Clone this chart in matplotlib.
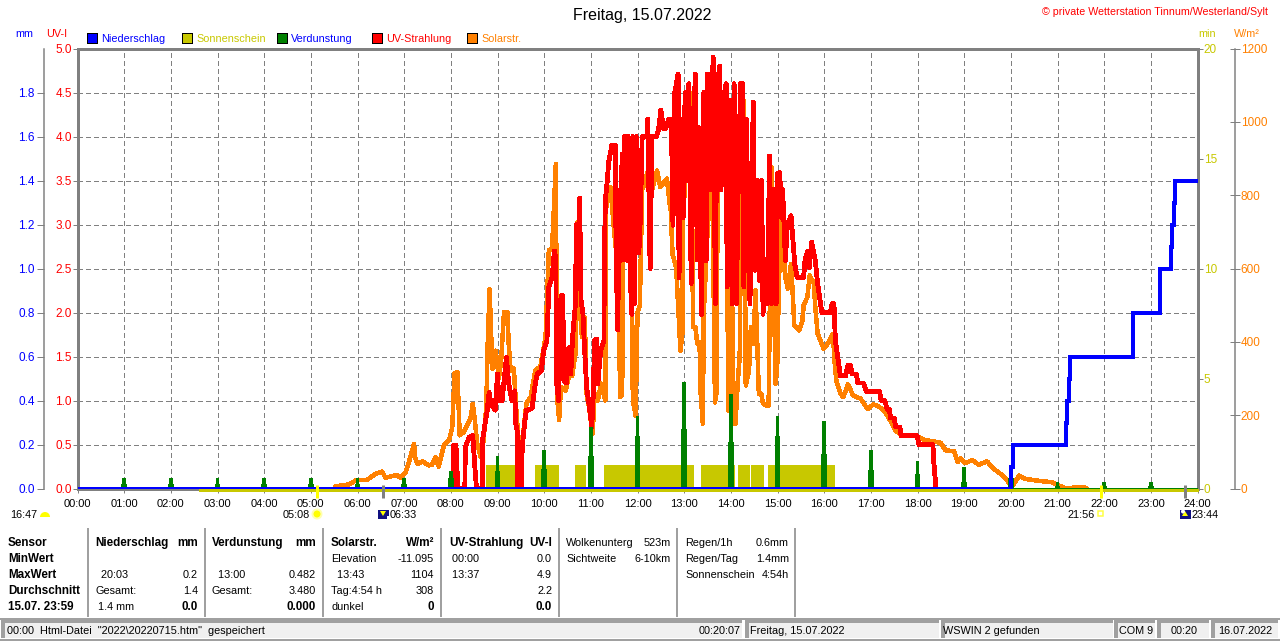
import matplotlib
matplotlib.use("Agg")
import matplotlib.pyplot as plt
from matplotlib.patches import Rectangle, Wedge, Circle, Polygon
from matplotlib.transforms import blended_transform_factory

plt.rcParams['font.family'] = ['Liberation Sans', 'DejaVu Sans']
plt.rcParams['lines.scale_dashes'] = False

# ---------- data ----------
title = "Freitag, 15.07.2022"
credit = "© private Wetterstation Tinnum/Westerland/Sylt"
hour_labels = ["%02d:00" % h for h in range(25)]

legend_names = ["Niederschlag", "Sonnenschein", "Verdunstung", "UV-Strahlung", "Solarstr."]

uv_hours = [8.04, 8.06, 8.11, 8.15, 8.3, 8.31, 8.39, 8.47, 8.51, 8.55, 8.67, 8.68, 8.78, 8.82, 8.86, 8.95, 9.0, 9.03, 9.1,
            9.19, 9.24, 9.31, 9.37, 9.39, 9.42, 9.43, 9.51, 9.53, 9.58, 9.62, 9.74, 9.81, 9.85, 9.94, 9.99, 10.06, 10.1,
            10.17, 10.22, 10.25, 10.26, 10.31, 10.36, 10.4, 10.42, 10.48, 10.53, 10.56, 10.57, 10.61, 10.67, 10.69, 10.73,
            10.76, 10.79, 10.83, 10.86, 10.91, 10.96, 11.02, 11.05, 11.08, 11.12, 11.15, 11.21, 11.28, 11.29, 11.31, 11.35,
            11.38, 11.45, 11.53, 11.54, 11.58, 11.6, 11.63, 11.67, 11.69, 11.72, 11.76, 11.78, 11.8, 11.84, 11.86, 11.88,
            11.9, 11.93, 11.97, 12.03, 12.06, 12.1, 12.2, 12.22, 12.27, 12.31, 12.4, 12.45, 12.5, 12.56, 12.6, 12.67, 12.7,
            12.73, 12.76, 12.8, 12.87, 12.89, 12.93, 12.98, 13.02, 13.06, 13.1, 13.15, 13.19, 13.24, 13.28, 13.31, 13.37,
            13.42, 13.47, 13.5, 13.55, 13.62, 13.67, 13.7, 13.76, 13.79, 13.83, 13.9, 13.92, 13.98, 14.03, 14.07, 14.12,
            14.16, 14.21, 14.25, 14.28, 14.33, 14.41, 14.48, 14.52, 14.57, 14.62, 14.66, 14.69, 14.73, 14.78, 14.83, 14.87,
            14.91, 14.97, 15.0, 15.05, 15.08, 15.11, 15.17, 15.21, 15.29, 15.33, 15.37, 15.42, 15.56, 15.59, 15.65, 15.68,
            15.73, 15.81, 15.86, 15.95, 16.13, 16.17, 16.21, 16.24, 16.32, 16.35, 16.46, 16.51, 16.56, 16.6, 16.69, 16.72,
            16.84, 16.91, 17.19, 17.22, 17.3, 17.35, 17.4, 17.42, 17.5, 17.53, 17.62, 17.65, 17.99, 18.03, 18.33, 18.35, 18.38,
            18.4]
uv_values = [0, 0.49, 0.49, 0, 0, 0.47, 0.58, 0.6, 0.28, 0, 0, 0.55, 0.89, 1.09, 0.96, 0.89, 1.3, 1.0, 1.0,
             1.49, 1.19, 1.0, 1.11, 0.74, 0.66, 0, 0, 0.47, 0.74, 0.89, 0.91, 1.19, 1.3, 1.34, 1.57, 1.68, 2.29,
             2.4, 2.7, 2.6, 1.23, 1.0, 2.19, 2.19, 1.23, 1.2, 1.6, 1.58, 1.3, 1.72, 2.1, 3.0, 2.7,
             3.3, 2.14, 1.99, 1.65, 1.15, 0.96, 0.7, 1.04, 1.68, 1.7, 1.19, 1.57, 1.68, 2.59, 3.27, 3.48,
             3.7, 3.9, 3.9, 2.59, 1.8, 3.39, 2.59, 3.8, 2.6, 4.0, 4.0, 2.59, 4.0, 2.55, 2.2, 1.98,
             4.0, 2.1, 4.0, 2.68, 3.05, 4.0, 4.0, 4.2, 2.5, 4.0, 4.0, 4.07, 4.3, 4.09, 4.09, 4.2, 4.2,
             4.03, 2.99, 4.5, 4.71, 2.39, 4.2, 3.08, 4.5, 3.5, 4.6, 2.33, 4.0, 4.71, 2.6, 4.1, 1.98,
             4.5, 2.59, 4.71, 3.39, 4.9, 2.1, 4.5, 4.8, 3.39, 4.4, 4.6, 2.29, 4.41, 2.1, 4.6, 2.1,
             3.5, 4.6, 4.6, 2.29, 4.2, 2.1, 4.39, 2.48, 3.5, 2.36, 3.5, 1.98, 2.6, 2.1, 3.78, 2.1,
             3.4, 2.1, 3.58, 3.59, 3.08, 3.4, 2.59, 2.99, 3.1, 2.82, 2.55, 2.4, 2.4, 2.6, 2.7, 2.51,
             2.8, 2.59, 2.33, 2.0, 2.0, 2.1, 2.1, 1.68, 1.38, 1.28, 1.28, 1.4, 1.4, 1.3, 1.3, 1.2,
             1.2, 1.1, 1.1, 1.0, 1.0, 0.9, 0.9, 0.8, 0.8, 0.7, 0.7, 0.6, 0.6, 0.5, 0.5, 0.3, 0.1,
             0]

solar_hours = [5.5, 5.53, 5.82, 5.96, 6.21, 6.39, 6.53, 6.6, 6.74, 6.85, 6.92, 7.03, 7.13, 7.21, 7.24, 7.29, 7.39, 7.53, 7.6,
               7.67, 7.74, 7.85, 7.96, 8.03, 8.08, 8.14, 8.19, 8.28, 8.42, 8.47, 8.51, 8.56, 8.64, 8.7, 8.76, 8.79, 8.83,
               8.86, 8.89, 8.96, 9.03, 9.08, 9.14, 9.21, 9.24, 9.28, 9.35, 9.41, 9.48, 9.53, 9.62, 9.71, 9.81, 9.92,
               10.03, 10.1, 10.17, 10.21, 10.25, 10.27, 10.29, 10.32, 10.36, 10.46, 10.56, 10.6, 10.67, 10.71, 10.76, 10.81,
               10.87, 10.91, 10.96, 11.04, 11.08, 11.15, 11.22, 11.31, 11.33, 11.42, 11.5, 11.58, 11.63, 11.67, 11.71, 11.8,
               11.86, 11.9, 11.96, 12.0, 12.05, 12.1, 12.17, 12.21, 12.3, 12.42, 12.49, 12.63, 12.69, 12.71, 12.75, 12.83,
               12.92, 12.96, 12.98, 13.06, 13.15, 13.19, 13.24, 13.28, 13.33, 13.35, 13.4, 13.42, 13.5, 13.6, 13.66, 13.7,
               13.72, 13.8, 13.82, 13.9, 13.95, 14.0, 14.03, 14.05, 14.1, 14.15, 14.19, 14.22, 14.28, 14.32, 14.39, 14.43,
               14.48, 14.53, 14.6, 14.65, 14.69, 14.76, 14.81, 14.83, 14.88, 14.9, 14.96, 15.0, 15.05, 15.08, 15.12, 15.17,
               15.22, 15.29, 15.33, 15.36, 15.46, 15.53, 15.56, 15.64, 15.69, 15.78, 15.81, 15.86, 15.99, 16.1, 16.19, 16.22,
               16.26, 16.35, 16.41, 16.51, 16.62, 16.78, 16.93, 17.05, 17.17, 17.31, 17.46, 17.53, 17.67, 17.99, 18.14, 18.49,
               18.6, 18.78, 18.86, 18.92, 19.03, 19.17, 19.31, 19.49, 19.63, 19.85, 19.97, 20.05, 20.18, 20.32, 20.53, 20.89,
               21.03, 21.15, 21.3, 21.35, 21.56, 21.62]
solar_values = [0, 6, 11, 22, 24, 40, 46, 29, 34, 37, 29, 44, 84, 122, 82, 67, 74, 63, 65,
                85, 60, 117, 131, 167, 314, 317, 145, 154, 190, 231, 191, 126, 85, 130, 222, 395, 543,
                436, 327, 376, 300, 354, 481, 481, 395, 322, 327, 199, 90, 126, 232, 249, 322, 333,
                413, 649, 654, 767, 885, 404, 231, 187, 276, 267, 322, 308, 367, 726, 500, 413,
                467, 259, 222, 149, 259, 240, 286, 240, 767, 822, 700, 600, 249, 254, 859, 880,
                900, 240, 199, 480, 500, 817, 835, 863, 808, 867, 822, 845, 776, 767, 640, 600,
                376, 422, 740, 940, 1077, 440, 440, 395, 400, 267, 177, 477, 700, 895, 235, 267,
                1104, 1022, 867, 880, 213, 220, 500, 177, 177, 295, 358, 785, 1058, 281, 322, 440,
                395, 540, 259, 259, 232, 226, 226, 450, 876, 690, 286, 349, 740, 595, 685, 576,
                545, 613, 522, 445, 431, 454, 499, 522, 581, 559, 494, 422, 381, 399, 422, 349,
                295, 259, 249, 284, 254, 245, 217, 229, 224, 208, 176, 158, 145, 143, 133, 125,
                104, 102, 72, 82, 69, 78, 65, 74, 54, 33, 14, 10, 35, 26, 22, 17,
                8, 2, 0, 4, 4, 0]

precip_hours = [0, 20.0, 20.05, 21.18, 21.21, 21.24, 21.26, 22.61, 23.2, 23.43, 23.46, 23.49, 23.51, 24]
precip_values = [0, 0.1, 0.2, 0.3, 0.4, 0.5, 0.6, 0.8, 1.0, 1.1, 1.2, 1.3, 1.4, 1.4]

evap_hours = list(range(1, 24))
evap_values = [.05, .05, .05, .05, .05, .05, .05, .08, .15, .177, .28, .33, .482, .43, .33, .306, .177, .127, .1, .097, .03, .03, .03]
evap_lower = [.02, .02, .02, .02, .02, .02, .02, .05, .08, .09, .15, .24, .27, .21, .24, .155, .085, .065, .03, .05, .01, .01, .01]

sun_starts = [8.07, 8.76, 9.81, 10.65, 11.29, 11.93, 13.37, 14.16, 14.43, 14.8]
sun_ends = [8.15, 9.39, 10.31, 10.89, 11.92, 13.2, 14.08, 14.41, 14.7, 16.24]
sun_minutes = [1.09] * 10
sun_line_hours = [2.6, 24]
sun_line_values = [0, 0]

sun_events = [5.13, 21.93]
moon_events = [6.55, 23.73]

uv_ticks = [0, .5, 1, 1.5, 2, 2.5, 3, 3.5, 4, 4.5, 5]
mm_ticks = [0, .2, .4, .6, .8, 1.0, 1.2, 1.4, 1.6, 1.8]
min_ticks = [0, 5, 10, 15, 20]
watt_ticks = [0, 200, 400, 600, 800, 1000, 1200]

col_sensor = ["Sensor", "MinWert", "MaxWert", "Durchschnitt", "15.07. 23:59"]
col_precip_l = ["Niederschlag", "", "  20:03", "Gesamt:", " 1.4 mm"]
col_precip_r = ["mm", "", "0.2", "1.4", "0.0"]
col_evap_l = ["Verdunstung", "", "  13:00", "Gesamt:", ""]
col_evap_r = ["mm", "", "0.482", "3.480", "0.000"]
col_solar_l = ["Solarstr.", "Elevation", "  13:43", "Tag:4:54 h", "dunkel"]
col_solar_r = ["W/m²", "-11.095", "1104", "308", "0"]
col_uv_l = ["UV-Strahlung", " 00:00", " 13:37", "", ""]
col_uv_r = ["UV-I", "0.0", "4.9", "2.2", "0.0"]
col_cloud_l = ["Wolkenunterg", "Sichtweite"]
col_cloud_r = ["523m", "6-10km"]
col_rain_l = ["Regen/1h", "Regen/Tag", "Sonnenschein"]
col_rain_r = ["0.6mm", "1.4mm", "4:54h"]

status_left = '00:00  Html-Datei  "2022\\20220715.htm"  gespeichert'
status_clock = "00:20:07"
status_texts = [title, "WSWIN 2 gefunden", "COM 9", "00:20", "16.07.2022"]

# ---------- style ----------
BLUE, OLIVE, GREEN, RED, ORANGE = "#0000FF", "#C8C800", "#008000", "#FF0000", "#FF8000"
GRAY = "#808080"
FS = 7.8
px = 0.72

fig = plt.figure(figsize=(12.8, 6.41), dpi=100, facecolor="white")
rect = [77.5 / 1280, (641 - 488.5) / 641, 1120 / 1280, 440 / 641]

ax = fig.add_axes(rect, zorder=1)
ax.set_xlim(0, 24)
ax.set_ylim(0, 5)
ax.set_xticks(range(25))
ax.set_xticklabels(hour_labels, fontsize=8, color="black")
ax.set_yticks(uv_ticks)
ax.set_yticklabels(["%.1f" % v for v in uv_ticks], fontsize=8.5, color=RED)
ax.tick_params(axis="x", length=3, width=px, color=GRAY, pad=4.8)
ax.tick_params(axis="y", length=3.6, width=px, color=GRAY, pad=0.5)
ax.grid(True, color=GRAY, linewidth=1 * px, linestyle=(0, (2.9, 2.2)), antialiased=False)
ax.set_axisbelow(True)
for s in ax.spines.values():
    s.set_color(GRAY)
    s.set_linewidth(3 * px)


def twin(z, lim):
    t = ax.twinx()
    t.set_zorder(z)
    t.patch.set_visible(False)
    t.set_ylim(*lim)
    for s in t.spines.values():
        s.set_visible(False)
    t.set_yticks([])
    return t


ax_sun = twin(2, (0, 20))
ax_solar = twin(3, (0, 1200))
ax_uv = twin(4, (0, 5))
ax_mm = twin(5, (0, 2))

# right hand minute axis
ax_sun.set_yticks(min_ticks)
ax_sun.set_yticklabels([str(v) for v in min_ticks], fontsize=8.5, color=OLIVE)
ax_sun.tick_params(axis="y", length=3.6, width=px, color=GRAY, pad=1)

# right hand W/m² axis
ax_solar.spines["right"].set_visible(True)
ax_solar.spines["right"].set_position(("outward", 26.8))
ax_solar.spines["right"].set_color(GRAY)
ax_solar.spines["right"].set_linewidth(1.5 * px)
ax_solar.set_yticks(watt_ticks)
ax_solar.set_yticklabels([str(v) for v in watt_ticks], fontsize=8.5, color=ORANGE)
ax_solar.tick_params(axis="y", direction="inout", length=6.5, width=px, color=GRAY, pad=1)

# left hand mm axis
ax_mm.spines["left"].set_visible(True)
ax_mm.spines["left"].set_position(("outward", 24.2))
ax_mm.spines["left"].set_color(GRAY)
ax_mm.spines["left"].set_linewidth(1.5 * px)
ax_mm.yaxis.set_ticks_position("left")
ax_mm.yaxis.set_label_position("left")
ax_mm.set_yticks(mm_ticks)
ax_mm.set_yticklabels(["%.1f" % v for v in mm_ticks], fontsize=8.5, color=BLUE)
ax_mm.tick_params(axis="y", length=5, width=px, color=GRAY, pad=1.5)

# series
sun_base_tf = blended_transform_factory(ax_sun.transData, ax_sun.transAxes)
ax_sun.bar(sun_starts, sun_minutes, width=[e - s for s, e in zip(sun_starts, sun_ends)],
           align="edge", color=OLIVE, linewidth=0, antialiased=False)
ax_sun.plot(sun_line_hours, [v - 1.2 / 440 for v in sun_line_values], transform=sun_base_tf,
            color=OLIVE, lw=2.8 * px, clip_on=False, solid_capstyle="butt", antialiased=False)
ax_solar.plot(solar_hours, solar_values, color=ORANGE, lw=3.5 * px, antialiased=False, solid_joinstyle="round")
ax_uv.plot(uv_hours, uv_values, color=RED, lw=3.8 * px, antialiased=False, solid_joinstyle="round")
ax_mm.plot([0, 24], [0, 0], color=GREEN, lw=3 * px, antialiased=False)
ax_mm.bar(evap_hours, evap_values, width=0.075, color=GREEN, linewidth=0, antialiased=False)
ax_mm.bar(evap_hours, evap_lower, width=0.115, color=GREEN, linewidth=0, antialiased=False)
ax_mm.plot(precip_hours, precip_values, color=BLUE, lw=4 * px, drawstyle="steps-post",
           solid_joinstyle="miter", antialiased=False)

# sun / moon rise-and-set tick marks under the axis
mark_tf = blended_transform_factory(ax_mm.transData, ax_mm.transAxes)
for h in sun_events:
    ax_mm.plot([h, h], [-9 / 440, 4 / 440], transform=mark_tf, color="#FFFF00", lw=3 * px, clip_on=False, solid_capstyle="butt")
for h in moon_events:
    ax_mm.plot([h, h], [-9 / 440, 4 / 440], transform=mark_tf, color=GRAY, lw=3 * px, clip_on=False, solid_capstyle="butt")

# ---------- overlay in pixel coordinates ----------
ov = fig.add_axes([0, 0, 1, 1], zorder=10)
ov.set_xlim(0, 1280)
ov.set_ylim(641, 0)
ov.axis("off")


def T(x, y, s, color="black", ha="left", size=FS, weight="normal"):
    ov.text(x, y + 0.7, s, color=color, ha=ha, va="center", fontsize=size, fontweight=weight)


T(642.5, 15, title, ha="center", size=11.5)
T(1268, 11, credit, color=RED, ha="right", size=7.65)
T(15, 33, "mm", color=BLUE)
T(46, 33, "UV-I", color=RED)
T(1198, 33, "min", color=OLIVE)
T(1234, 33, "W/m²", color=ORANGE)

legend_square_x = [87, 182, 277, 372, 467]
legend_fill = [BLUE, OLIVE, GREEN, RED, ORANGE]
legend_text = [BLUE, OLIVE, BLUE, RED, ORANGE]
for x, name, fc, tc in zip(legend_square_x, legend_names, legend_fill, legend_text):
    ov.add_patch(Rectangle((x, 33), 10, 10, facecolor=fc, edgecolor="black", linewidth=1 * px, antialiased=False))
    T(x + 14, 38, name, color=tc)

# rise / set labels and icons
T(10, 514, "16:47")
T(283, 514, "05:08")
T(390, 514, "06:33")
T(1067, 514, "21:56")
T(1192, 514, "23:44")
ov.add_patch(Wedge((45, 517), 5, 180, 360, facecolor="#FFFF00", edgecolor="none"))
ov.add_patch(Circle((317, 514), 5.5, facecolor="#FFFFB0", edgecolor="none"))
ov.add_patch(Circle((317, 514), 3.5, facecolor="#FFFF00", edgecolor="none"))
ov.add_patch(Rectangle((1098, 511), 5, 5, facecolor="white", edgecolor="#FFFF40", linewidth=1.5 * px))
for x0 in (378, 1180):
    ov.add_patch(Rectangle((x0, 510), 11, 9, facecolor="#101080", edgecolor="none"))
ov.add_patch(Polygon([(380, 511), (386, 511), (383, 516)], facecolor="#FFFF00", edgecolor="none"))
ov.add_patch(Rectangle((387, 516), 2, 3, facecolor="white", edgecolor="none"))
ov.add_patch(Polygon([(1182, 516), (1188, 516), (1185, 511)], facecolor="#FFFF00", edgecolor="none"))
ov.add_patch(Circle((1183, 511.5), 2, facecolor="white", edgecolor="none"))

# table
row_y = [542, 558, 574, 590, 606]
sep_x = [88, 205, 323, 441, 559, 677, 795]
for x in sep_x:
    ov.plot([x, x], [528, 617], color="#A0A0A0", lw=2 * px, antialiased=False, solid_capstyle="butt")

for y, s in zip(row_y, col_sensor):
    T(8, y, s, weight="bold", size=8.4)


def column(lx, rx, left, right, header_bold=True, last_bold=True):
    for i, (a, b) in enumerate(zip(left, right)):
        y = row_y[i]
        T(lx, y, a, weight="bold" if (i == 0 and header_bold) else "normal",
          size=8.4 if (i == 0 and header_bold) else FS)
        bold = (i == 0 and header_bold) or (i == 4 and last_bold)
        T(rx, y, b, ha="right", weight="bold" if bold else "normal", size=8.4 if bold else FS)


column(95, 198, col_precip_l, col_precip_r)
column(212, 316, col_evap_l, col_evap_r)
column(331, 434, col_solar_l, col_solar_r)
column(449, 552, col_uv_l, col_uv_r)
column(566, 671, col_cloud_l, col_cloud_r, header_bold=False)
column(685, 789, col_rain_l, col_rain_r, header_bold=False)

# status bar
ov.plot([0, 1280], [618.5, 618.5], color="#A0A0A0", lw=2 * px, antialiased=False, solid_capstyle="butt")
ov.plot([0, 1280], [640, 640], color="#A0A0A0", lw=2 * px, antialiased=False, solid_capstyle="butt")
segments = [(2, 742), (746, 939), (942, 1113), (1115, 1155), (1158, 1209), (1212, 1278)]
for a, b in segments:
    ov.add_patch(Rectangle((a, 620), b - a, 18, facecolor="#F0F0F0", edgecolor="none"))
    ov.plot([a, b], [621, 621], color="#A0A0A0", lw=2.5 * px, antialiased=False, solid_capstyle="butt")
    ov.plot([a + 1, a + 1], [620, 638], color="#A0A0A0", lw=2.5 * px, antialiased=False, solid_capstyle="butt")

T(7, 630, status_left)
T(741, 630, status_clock, ha="right")
T(750, 630, status_texts[0])
T(943, 630, status_texts[1])
T(1119, 630, status_texts[2])
T(1184, 630, status_texts[3], ha="center")
T(1218, 630, status_texts[4])

fig.savefig("out.png", dpi=100, facecolor="white")
